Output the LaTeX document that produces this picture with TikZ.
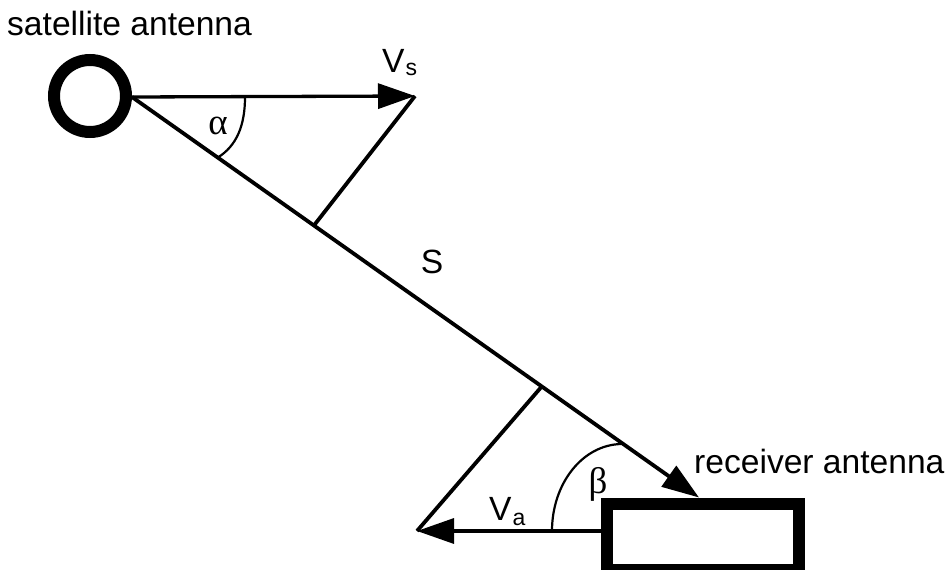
\documentclass[tikz,border=0pt]{standalone}
\usepackage{fontspec}
\setmainfont{Liberation Sans}
\newfontfamily\greekfont{Liberation Serif}
\usetikzlibrary{arrows.meta}
\begin{document}
\begin{tikzpicture}[x=1pt,y=-1pt,
  lbl/.style={font=\fontsize{33.6}{36}\selectfont, inner sep=0},
  glbl/.style={font=\greekfont\fontsize{37}{38}\selectfont, inner sep=0},
  vec/.style={line width=3.3pt, -{Triangle[length=37pt,width=25pt]}},
  ln/.style={line width=3.8pt},
  arcl/.style={line width=2.2pt}]
\useasboundingbox (0,0) rectangle (946,570);
% antennas
\node[draw, circle, line width=12pt, minimum size=72pt, inner sep=0] (sat) at (90,96) {};
\node[draw, rectangle, line width=12pt, minimum width=192.5pt, minimum height=66pt, inner sep=0] (rx) at (702.75,536.5) {};
% key points
\coordinate (o) at (132,97);
\coordinate (vs) at (415,96);
\coordinate (fs) at (314,225.4);
\coordinate (fa) at (542,386.2);
\coordinate (stip) at (699,497.5);
\coordinate (va) at (417,531);
% vectors
\draw[vec] (o) -- (vs);
\draw[vec, line width=3.8pt] (o) -- (stip);
\draw[ln] (vs) -- (fs);
\draw[ln] (fa) -- (va);
\draw[vec] (rx.west |- va) -- (va);
% angle arcs
\draw[arcl] (245,97) .. controls (245,125) and (237,146) .. (217,158);
\draw[arcl] (552,531) .. controls (552,484) and (582,445) .. (621,444);
% labels
\node[lbl, anchor=base west] (satlbl) at (7,35) {satellite antenna};
\node[lbl, anchor=base west] (rxlbl) at (694,473) {receiver antenna};
\node[lbl, anchor=base west] (vslbl) at (382,72) {V\kern1pt\raisebox{-3pt}{\fontsize{23}{24}\selectfont s}};
\node[lbl, anchor=base west] (valbl) at (489,520) {V\kern1pt\raisebox{-5pt}{\fontsize{23}{24}\selectfont a}};
\node[lbl] (slbl) at (432,262) {S};
\node[glbl] (alpha) at (218,126) {α};
\node[glbl] (beta) at (598,484) {β};
\end{tikzpicture}
\end{document}
